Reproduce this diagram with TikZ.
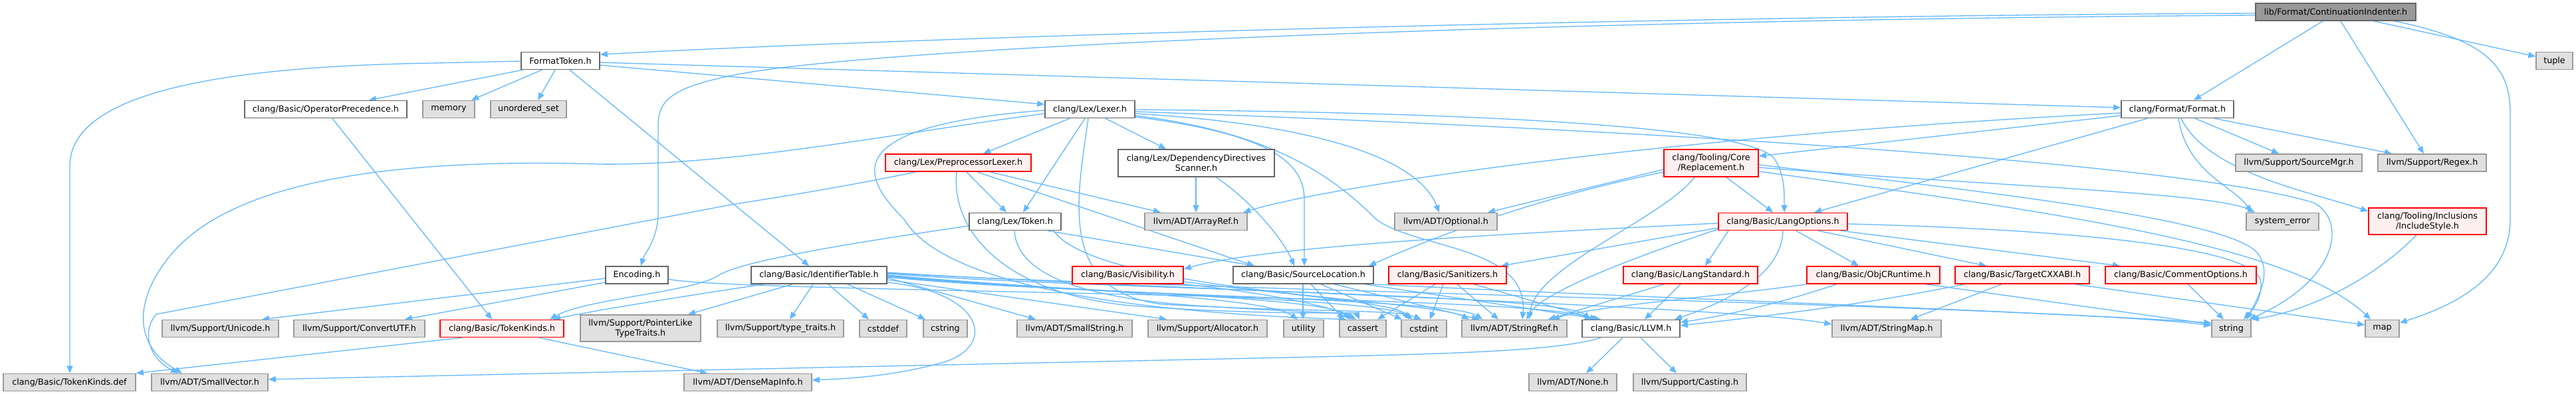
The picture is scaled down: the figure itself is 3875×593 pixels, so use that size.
\documentclass[tikz,border=0pt]{standalone}
\usepackage{fontspec}
\setmainfont{DejaVu Sans}
\usetikzlibrary{arrows.meta}
\pgfdeclarelayer{bg}
\pgfsetlayers{bg,main}
\definecolor{edgec}{HTML}{63B8FF}
\definecolor{cE0}{HTML}{E0E0E0}
\definecolor{c999}{HTML}{999999}
\definecolor{c666}{HTML}{666666}
\definecolor{redfill}{HTML}{FFF0F0}
\definecolor{redline}{HTML}{FF0000}
\newcommand\fsz{\fontsize{12.75}{15}\selectfont}
\tikzset{
 nbase/.style={draw, line width=1.6pt, inner sep=0pt, minimum height=26pt, font=\fsz, text=black, align=center},
 wht/.style={nbase, draw=c666, fill=white},
 gry/.style={nbase, draw=c999, fill=cE0},
 rednode/.style={nbase, draw=redline, fill=redfill},
 rootn/.style={nbase, draw=c666, fill=c999},
 edg/.style={draw=edgec, line width=1.3pt, -{Triangle[length=11pt,width=9pt]}},
}
\begin{document}
\begin{tikzpicture}[x=1pt,y=-1pt]
\useasboundingbox (0,0) rectangle (3875,593);
% ---------- nodes ----------
\node[rootn, minimum width=241pt] (root) at (3513.5,18) {lib/Format/ContinuationIndenter.h};
\node[gry, minimum width=55pt] (tuple) at (3842.5,91.5) {tuple};
\node[wht, minimum width=118pt] (ftok) at (843,91.5) {FormatToken.h};
\node[wht, minimum width=244pt] (opprec) at (490,164.5) {clang/Basic/OperatorPrecedence.h};
\node[gry, minimum width=78pt] (memory) at (675,164.5) {memory};
\node[gry, minimum width=114pt] (unord) at (795,164.5) {unordered\_set};
\node[wht, minimum width=135pt] (lexer) at (1639.5,164.5) {clang/Lex/Lexer.h};
\node[wht, minimum width=169pt] (format) at (3275.5,164.5) {clang/Format/Format.h};
\node[rednode, minimum width=219pt] (pplexer) at (1441.5,245) {clang/Lex/PreprocessorLexer.h};
\node[wht, minimum width=235pt, minimum height=41pt] (depscan) at (1799.5,245.5) {clang/Lex/DependencyDirectives\\Scanner.h};
\node[rednode, minimum width=142pt, minimum height=41pt] (repl) at (2574,245.5) {clang/Tooling/Core\\/Replacement.h};
\node[gry, minimum width=190pt] (srcmgr) at (3458,245) {llvm/Support/SourceMgr.h};
\node[gry, minimum width=163pt] (regex) at (3658.5,245) {llvm/Support/Regex.h};
\node[rednode, minimum width=177pt, minimum height=40pt] (inclstyle) at (3651.5,333) {clang/Tooling/Inclusions\\/IncludeStyle.h};
\node[wht, minimum width=138pt] (token) at (1527,333.5) {clang/Lex/Token.h};
\node[gry, minimum width=154pt] (arrayref) at (1799,333.5) {llvm/ADT/ArrayRef.h};
\node[gry, minimum width=154pt] (optional) at (2175,333.5) {llvm/ADT/Optional.h};
\node[rednode, minimum width=194pt] (langopt) at (2682,333.5) {clang/Basic/LangOptions.h};
\node[gry, minimum width=109pt] (syserr) at (3433.5,333.5) {system\_error};
% row 414
\node[wht, minimum width=94pt] (encoding) at (958,414) {Encoding.h};
\node[wht, minimum width=204pt] (identtab) at (1232,414) {clang/Basic/IdentifierTable.h};
\node[rednode, minimum width=167pt] (visib) at (1696.5,414) {clang/Basic/Visibility.h};
\node[wht, minimum width=211pt] (srcloc) at (1960.5,414) {clang/Basic/SourceLocation.h};
\node[rednode, minimum width=177pt] (sanit) at (2177.5,414) {clang/Basic/Sanitizers.h};
\node[rednode, minimum width=202pt] (langstd) at (2543,414) {clang/Basic/LangStandard.h};
\node[rednode, minimum width=200pt] (objc) at (2818,414) {clang/Basic/ObjCRuntime.h};
\node[rednode, minimum width=202pt] (tcxx) at (3042,414) {clang/Basic/TargetCXXABI.h};
\node[rednode, minimum width=227pt] (commopt) at (3280.5,414) {clang/Basic/CommentOptions.h};
% row 494.5
\node[rednode, minimum width=186pt] (tokkinds) at (755,494.5) {clang/Basic/TokenKinds.h};
\node[gry, minimum width=181pt, minimum height=40pt] (ptrlike) at (963.5,494) {llvm/Support/PointerLike\\TypeTraits.h};
\node[gry, minimum width=190pt] (typetr) at (1174,494.5) {llvm/Support/type\_traits.h};
\node[gry, minimum width=71pt] (cstddef) at (1328.5,494.5) {cstddef};
\node[gry, minimum width=66pt] (cstring) at (1422,494.5) {cstring};
\node[gry, minimum width=173pt] (smallstr) at (1616.5,494.5) {llvm/ADT/SmallString.h};
\node[gry, minimum width=179pt] (alloc) at (1816.5,494.5) {llvm/Support/Allocator.h};
\node[gry, minimum width=60pt] (utility) at (1961,494.5) {utility};
\node[gry, minimum width=70pt] (cassert) at (2050,494.5) {cassert};
\node[gry, minimum width=68pt] (cstdint) at (2142,494.5) {cstdint};
\node[gry, minimum width=158pt] (stringref) at (2278,494.5) {llvm/ADT/StringRef.h};
\node[wht, minimum width=147pt] (llvmh) at (2453.5,494.5) {clang/Basic/LLVM.h};
\node[gry, minimum width=164pt] (stringmap) at (2838,494.5) {llvm/ADT/StringMap.h};
\node[gry, minimum width=59pt] (string) at (3356.5,494.5) {string};
\node[gry, minimum width=51pt] (map) at (3583.5,494.5) {map};
\node[gry, minimum width=175pt] (unicode) at (331.5,494.5) {llvm/Support/Unicode.h};
\node[gry, minimum width=197pt] (convutf) at (540.5,494.5) {llvm/Support/ConvertUTF.h};
% row 575.5
\node[gry, minimum width=199pt] (tkdef) at (104.5,575.5) {clang/Basic/TokenKinds.def};
\node[gry, minimum width=175pt] (smallvec) at (315.5,575.5) {llvm/ADT/SmallVector.h};
\node[gry, minimum width=192pt] (densemap) at (1125,575.5) {llvm/ADT/DenseMapInfo.h};
\node[gry, minimum width=132pt] (none) at (2366,575.5) {llvm/ADT/None.h};
\node[gry, minimum width=170pt] (casting) at (2542,575.5) {llvm/Support/Casting.h};
% ---------- edges ----------
\begin{pgfonlayer}{bg}
\fill[white] (0,0) rectangle (3875,593);
% root
\draw[edg] (root.west |- 0,20) .. controls (2500,24) and (1400,55) .. (ftok.east |- 0,82);
\draw[edg] (root.west |- 0,23) .. controls (2300,30) and (1350,70) .. (1120,110) .. controls (1010,130) and (990,150) .. (990,190) -- (990,320) .. controls (990,360) and (970,380) .. (964,0 |- encoding.north);
\draw[edg] (3494,0 |- root.south) -- (3300,0 |- format.north);
\draw[edg] (3521,0 |- root.south) -- (3646,0 |- regex.north);
\draw[edg] (3571,0 |- root.south) -- (tuple.west |- 0,85);
\draw[edg] (3602,0 |- root.south) .. controls (3740,60) and (3776,100) .. (3776,170) -- (3776,330) .. controls (3776,420) and (3690,460) .. (map.east |- 0,486);
% FormatToken
\draw[edg] (ftok.west |- 0,92) -- (650,95) .. controls (330,100) and (105,140) .. (105,250) -- (105,0 |- tkdef.north);
\draw[edg] (786,0 |- ftok.south) -- (555,0 |- opprec.north);
\draw[edg] (815,0 |- ftok.south) -- (709,0 |- memory.north);
\draw[edg] (835,0 |- ftok.south) -- (809,0 |- unord.north);
\draw[edg] (857,0 |- ftok.south) -- (1217,0 |- identtab.north);
\draw[edg] (ftok.east |- 0,98) -- (lexer.west |- 0,157);
\draw[edg] (ftok.east |- 0,94) -- (format.west |- 0,162);
% OperatorPrecedence
\draw[edg] (500,0 |- opprec.south) -- (740,0 |- tokkinds.north);
% Encoding
\draw[edg] (encoding.west |- 0,419) -- (394,0 |- unicode.north);
\draw[edg] (encoding.west |- 0,425) -- (609,0 |- convutf.north);
\draw[edg] (encoding.east |- 0,420) .. controls (1080,440) and (2300,442) .. (2395,0 |- llvmh.north);
% IdentifierTable
\draw[edg] (1149,0 |- identtab.south) .. controls (1000,450) and (880,470) .. (832,0 |- tokkinds.north);
\draw[edg] (1192,0 |- identtab.south) -- (1035,0 |- ptrlike.north);
\draw[edg] (1223,0 |- identtab.south) -- (1188,0 |- typetr.north);
\draw[edg] (1246,0 |- identtab.south) -- (1307,0 |- cstddef.north);
\draw[edg] (1275,0 |- identtab.south) -- (1392,0 |- cstring.north);
\draw[edg] (identtab.east |- 0,418) -- (1558,0 |- smallstr.north);
\draw[edg] (identtab.east |- 0,421) -- (1755,0 |- alloc.north);
\draw[edg] (identtab.east |- 0,425) .. controls (1480,440) and (1500,520) .. (1420,545) .. controls (1350,565) and (1280,570) .. (densemap.east |- 0,572);
\draw[edg] (identtab.east |- 0,414) .. controls (1600,438) and (1900,445) .. (1952,0 |- utility.north);
\draw[edg] (identtab.east |- 0,415) .. controls (1600,440) and (1990,445) .. (2035,0 |- cassert.north);
\draw[edg] (identtab.east |- 0,416) .. controls (1600,442) and (2080,448) .. (2125,0 |- cstdint.north);
\draw[edg] (identtab.east |- 0,417) .. controls (1600,444) and (2180,448) .. (2230,0 |- stringref.north);
\draw[edg] (identtab.east |- 0,412) .. controls (1650,436) and (2350,442) .. (2392,0 |- llvmh.north);
\draw[edg] (identtab.east |- 0,410) .. controls (1700,434) and (2600,460) .. (stringmap.west |- 0,488);
\draw[edg] (identtab.east |- 0,411) .. controls (1750,436) and (3100,460) .. (string.west |- 0,490);
% TokenKinds.h
\draw[edg] (695,0 |- tokkinds.south) -- (tkdef.north east);
\draw[edg] (811,0 |- tokkinds.south) -- (1064,0 |- densemap.north);
% LLVM.h
\draw[edg] (2408,0 |- llvmh.south) .. controls (2340,530) and (2150,533) .. (1940,538) -- (smallvec.east |- 0,571);
\draw[edg] (2441,0 |- llvmh.south) -- (2386,0 |- none.north);
\draw[edg] (2468,0 |- llvmh.south) -- (2522,0 |- casting.north);
% Lexer
\draw[edg] (1609,0 |- lexer.south) -- (1479,0 |- pplexer.north);
\draw[edg] (1632,0 |- lexer.south) -- (1539,0 |- token.north);
\draw[edg] (1663,0 |- lexer.south) -- (1754,0 |- depscan.north);
\draw[edg] (1637,0 |- lexer.south) .. controls (1620,300) and (1590,440) .. (1750,458) .. controls (1950,470) and (2100,465) .. (2138,0 |- cstdint.north);
\draw[edg] (lexer.east |- 0,165) .. controls (2300,170) and (2640,195) .. (2670,240) .. controls (2685,265) and (2684,290) .. (2684,0 |- langopt.north);
\draw[edg] (lexer.east |- 0,168) .. controls (2600,200) and (3300,250) .. (3480,305) .. controls (3530,330) and (3520,420) .. (3383,0 |- string.north);
\draw[edg] (lexer.east |- 0,171) .. controls (1950,185) and (2130,230) .. (2165,0 |- optional.north);
\draw[edg] (lexer.east |- 0,174) .. controls (1920,200) and (2010,270) .. (2070,330) .. controls (2130,375) and (2300,370) .. (2290,0 |- stringref.north);
\draw[edg] (lexer.east |- 0,176) .. controls (1900,200) and (1962,240) .. (1962,300) -- (1962,0 |- srcloc.north);
\draw[edg] (lexer.west |- 0,171) .. controls (1350,200) and (1100,250) .. (900,247) .. controls (500,235) and (330,300) .. (260,380) .. controls (200,450) and (200,520) .. (274,0 |- smallvec.north);
\draw[edg] (lexer.west |- 0,166) .. controls (1250,190) and (1300,270) .. (1360,330) .. controls (1420,430) and (1700,470) .. (2025,0 |- cassert.north);
% PreprocessorLexer
\draw[edg] (1454,0 |- pplexer.south) -- (1514,0 |- token.north);
\draw[edg] (1470,0 |- pplexer.south) -- (1887,0 |- srcloc.north);
\draw[edg] (1489,0 |- pplexer.south) -- (1746,0 |- arrayref.north);
\draw[edg] (1378,0 |- pplexer.south) .. controls (1250,285) and (1150,300) .. (1100,308) -- (235,473) .. controls (212,500) and (225,540) .. (268,0 |- smallvec.north);
\draw[edg] (1439,0 |- pplexer.south) .. controls (1430,340) and (1500,440) .. (1700,460) .. controls (1900,475) and (2040,470) .. (2045,0 |- cassert.north);
% Token
\draw[edg] (token.west |- 0,340) .. controls (1250,370) and (1110,395) .. (1080,415) .. controls (1040,440) and (880,450) .. (827,0 |- tokkinds.north);
\draw[edg] (1576,0 |- token.south) -- (1887,0 |- srcloc.north);
\draw[edg] (1585,0 |- token.south) .. controls (1650,440) and (2150,450) .. (2210,0 |- stringref.north);
\draw[edg] (1526,0 |- token.south) .. controls (1530,420) and (1650,450) .. (1800,460) .. controls (1950,470) and (2020,470) .. (2030,0 |- cassert.north);
% DependencyDirectivesScanner
\draw[edg] (1799,0 |- depscan.south) -- (1799,0 |- arrayref.north);
\draw[edg] (1829,0 |- depscan.south) .. controls (1880,300) and (1930,360) .. (1947,0 |- srcloc.north);
% Format
\draw[edg] (3230,0 |- format.south) -- (2729,0 |- langopt.north);
\draw[edg] (format.west |- 0,174) -- (repl.east |- 0,235);
\draw[edg] (format.west |- 0,170) .. controls (2500,205) and (2000,280) .. (1870,0 |- arrayref.north);
\draw[edg] (3277,0 |- format.south) .. controls (3290,260) and (3360,280) .. (3387,0 |- syserr.north);
\draw[edg] (3281,0 |- format.south) .. controls (3320,260) and (3480,290) .. (inclstyle.west |- 0,318);
\draw[edg] (3302,0 |- format.south) -- (3428,0 |- srcmgr.north);
\draw[edg] (3331,0 |- format.south) -- (3598,0 |- regex.north);
% Replacement
\draw[edg] (2597,0 |- repl.south) -- (2667,0 |- langopt.north);
\draw[edg] (repl.west |- 0,255) -- (2238,0 |- optional.north);
\draw[edg] (repl.west |- 0,259) .. controls (2300,300) and (2150,360) .. (2059,0 |- srcloc.north);
\draw[edg] (2549,0 |- repl.south) .. controls (2500,330) and (2310,400) .. (2300,0 |- stringref.north);
\draw[edg] (repl.east |- 0,248) .. controls (3000,290) and (3350,330) .. (3395,380) .. controls (3420,410) and (3395,450) .. (3380,0 |- string.north);
\draw[edg] (repl.east |- 0,252) .. controls (3000,280) and (3330,290) .. (3392,0 |- syserr.north);
\draw[edg] (repl.east |- 0,258) .. controls (3100,320) and (3450,370) .. (3566,0 |- map.north);
% LangOptions
\draw[edg] (2600,0 |- langopt.south) -- (2565,0 |- langstd.north);
\draw[edg] (2702,0 |- langopt.south) -- (2796,0 |- objc.north);
\draw[edg] (2735,0 |- langopt.south) -- (2988,0 |- tcxx.north);
\draw[edg] (2769,0 |- langopt.south) -- (3189,0 |- commopt.north);
\draw[edg] (langopt.west |- 0,343) -- (2258,0 |- sanit.north);
\draw[edg] (langopt.west |- 0,336) .. controls (2300,350) and (1900,370) .. (visib.east |- 0,405);
\draw[edg] (2682,0 |- langopt.south) .. controls (2680,420) and (2580,460) .. (2519,0 |- llvmh.north);
\draw[edg] (langopt.west |- 0,345) .. controls (2450,390) and (2320,440) .. (2296,0 |- stringref.north);
\draw[edg] (langopt.east |- 0,337) .. controls (3100,345) and (3380,370) .. (3400,420) .. controls (3405,445) and (3390,465) .. (3375,0 |- string.north);
% ObjCRuntime
\draw[edg] (objc.south west) .. controls (2600,445) and (2400,460) .. (2335,0 |- stringref.north);
\draw[edg] (2762,0 |- objc.south) .. controls (2700,450) and (2600,475) .. (llvmh.east |- 0,485);
\draw[edg] (2897,0 |- objc.south) -- (string.west |- 0,488);
% TargetCXXABI
\draw[edg] (3011,0 |- tcxx.south) -- (2874,0 |- stringmap.north);
\draw[edg] (2955,0 |- tcxx.south) .. controls (2800,460) and (2620,480) .. (llvmh.east |- 0,490);
\draw[edg] (3121,0 |- tcxx.south) -- (map.west |- 0,489);
% CommentOptions
\draw[edg] (3291,0 |- commopt.south) -- (3345,0 |- string.north);
% LangStandard
\draw[edg] (2528,0 |- langstd.south) -- (2474,0 |- llvmh.north);
\draw[edg] (2503,0 |- langstd.south) -- (2329,0 |- stringref.north);
% Sanitizers
\draw[edg] (2159,0 |- sanit.south) -- (2072,0 |- cassert.north);
\draw[edg] (2171,0 |- sanit.south) -- (2151,0 |- cstdint.north);
\draw[edg] (2192,0 |- sanit.south) -- (2254,0 |- stringref.north);
\draw[edg] (2217,0 |- sanit.south) -- (2403,0 |- llvmh.north);
% SourceLocation
\draw[edg] (1960,0 |- srcloc.south) -- (1960,0 |- utility.north);
\draw[edg] (1972,0 |- srcloc.south) -- (2022,0 |- cassert.north);
\draw[edg] (1987,0 |- srcloc.south) -- (2109,0 |- cstdint.north);
\draw[edg] (2007,0 |- srcloc.south) -- (2225,0 |- stringref.north);
\draw[edg] (2053,0 |- srcloc.south) -- (2408,0 |- llvmh.north);
\draw[edg] (srcloc.south east) .. controls (2400,445) and (3100,470) .. (string.west |- 0,486);
% Visibility
\draw[edg] (visib.south east) .. controls (1900,440) and (2000,460) .. (2040,0 |- cassert.north);
\draw[edg] (visib.east |- 0,424) .. controls (1900,440) and (2100,455) .. (2120,0 |- cstdint.north);
% IncludeStyle
\draw[edg] (3635,0 |- inclstyle.south) .. controls (3560,430) and (3460,470) .. (string.north east);
\end{pgfonlayer}
\end{tikzpicture}
\end{document}
